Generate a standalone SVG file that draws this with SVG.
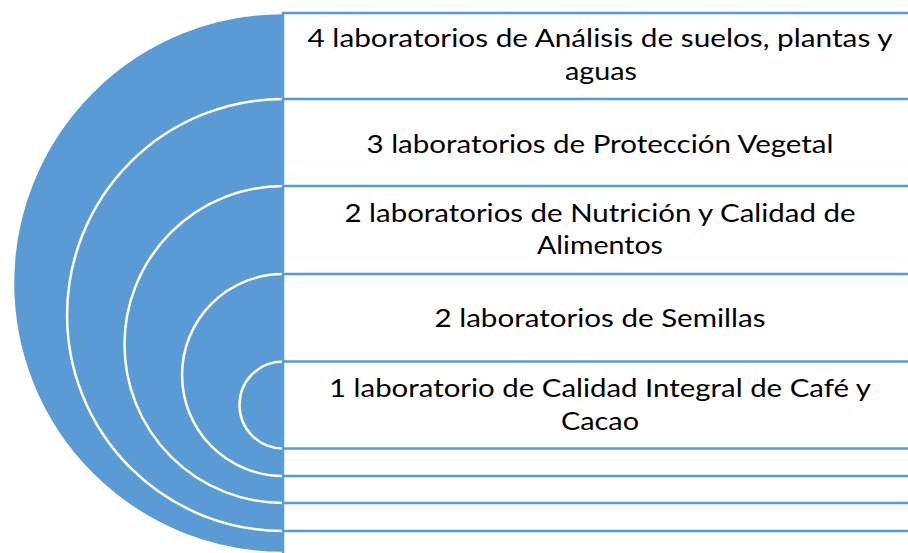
<svg xmlns="http://www.w3.org/2000/svg" width="908" height="553" viewBox="0 0 908 553">
<defs>
<style>
.ring{fill:#5B9BD5;stroke:#FFFFFF;stroke-width:2.5}
.box{fill:#FFFFFF;stroke:#5B9BD5;stroke-width:2.5}
.lbl{font-family:Lato,"Open Sans","Liberation Sans",sans-serif;font-size:25.5px;fill:#000000;text-anchor:middle}
</style>
</defs>
<rect width="908" height="553" fill="#FFFFFF"/>
<g id="node1">
<path class="ring" d="M283,13 A270,270 0 0 0 283,553"/>
<rect class="box" x="283" y="13" width="660" height="560"/>
<text class="lbl" x="600" y="47" textLength="585" lengthAdjust="spacingAndGlyphs">4 laboratorios de Análisis de suelos, plantas y</text>
<text class="lbl" x="601" y="80" textLength="72" lengthAdjust="spacingAndGlyphs">aguas</text>
</g>
<g id="node2">
<path class="ring" d="M283,99 A216,216 0 0 0 283,531"/>
<rect class="box" x="283" y="99" width="660" height="432"/>
<text class="lbl" x="600" y="153" textLength="467" lengthAdjust="spacingAndGlyphs">3 laboratorios de Protección Vegetal</text>
</g>
<g id="node3">
<path class="ring" d="M283,186 A158.5,158.5 0 0 0 283,503"/>
<rect class="box" x="283" y="186" width="660" height="317"/>
<text class="lbl" x="600" y="222" textLength="511" lengthAdjust="spacingAndGlyphs">2 laboratorios de Nutrición y Calidad de</text>
<text class="lbl" x="600" y="254" textLength="126" lengthAdjust="spacingAndGlyphs">Alimentos</text>
</g>
<g id="node4">
<path class="ring" d="M283,274 A101,101 0 0 0 283,476"/>
<rect class="box" x="283" y="274" width="660" height="202"/>
<text class="lbl" x="600" y="327" textLength="331" lengthAdjust="spacingAndGlyphs">2 laboratorios de Semillas</text>
</g>
<g id="node5">
<path class="ring" d="M283,361.5 A43.5,43.5 0 0 0 283,448.5"/>
<rect class="box" x="283" y="361.5" width="660" height="87"/>
<text class="lbl" x="600" y="397" textLength="542" lengthAdjust="spacingAndGlyphs">1 laboratorio de Calidad Integral de Café y</text>
<text class="lbl" x="600" y="430" textLength="78" lengthAdjust="spacingAndGlyphs">Cacao</text>
</g>
<g id="connectors"></g>
</svg>
